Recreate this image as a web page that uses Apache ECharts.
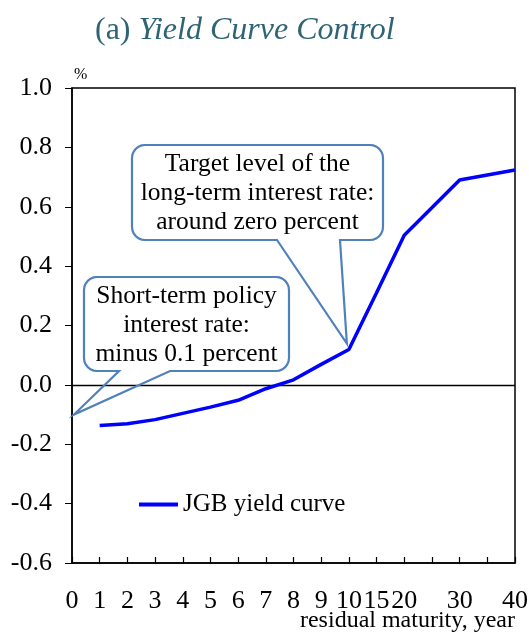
<!DOCTYPE html>
<html>
<head>
<meta charset="utf-8">
<script src="https://cdn.jsdelivr.net/npm/echarts@6/dist/echarts.min.js"></script>
<style>
  html, body { margin: 0; padding: 0; background: #fff; }
  #chart { width: 529px; height: 633px; }
</style>
</head>
<body>
<div id="chart"></div>
<script>
// residual maturity (years); 25 and 35 are only spacing slots on the axis
const maturities = ['0', '1', '2', '3', '4', '5', '6', '7', '8', '9', '10', '15', '20', '25', '30', '35', '40'];
const hiddenLabels = ['25', '35'];
// JGB yield, percent (null = no observation)
const jgbYield = [null, -0.137, -0.131, -0.117, -0.096, -0.075, -0.052, -0.013, 0.017, 0.069, 0.119, 0.31, 0.504, null, 0.69, null, 0.724];
const yTicks = { min: -0.6, max: 1.0, step: 0.2 };

// callout anchors: [category index, value]
const policyRatePoint = [0, -0.1];
const longRatePoint = [10, 0.119];

const serif = 'Liberation Serif';
const calloutColor = '#4f81bd';

var chart = echarts.init(document.getElementById('chart'));

chart.setOption({
    animation: false,
    title: {
        text: '(a) {i|Yield Curve Control}',
        left: 90,
        top: 10,
        textStyle: {
            fontFamily: serif,
            fontSize: 32,
            fontWeight: 'normal',
            color: '#2e6474',
            rich: {
                i: { fontFamily: serif, fontSize: 32, fontStyle: 'italic', color: '#2e6474' }
            }
        }
    },
    legend: {
        left: 134,
        top: 487,
        itemWidth: 39,
        itemHeight: 4,
        data: [{ name: 'JGB yield curve', icon: 'rect' }],
        textStyle: { fontFamily: serif, fontSize: 25, color: '#000' }
    },
    grid: {
        left: 72,
        right: 14,
        top: 88,
        bottom: 70,
        containLabel: false,
        outerBoundsMode: 'none',
        show: true,
        borderColor: '#000',
        borderWidth: 1.5
    },
    xAxis: {
        type: 'category',
        data: maturities,
        boundaryGap: false,
        name: 'residual maturity, year',
        nameLocation: 'end',
        nameGap: 0,
        nameMoveOverlap: false,
        nameTextStyle: {
            fontFamily: serif, fontSize: 24, color: '#000',
            align: 'right', verticalAlign: 'top', padding: [46, 0, 0, 0]
        },
        axisLine: { onZero: false, lineStyle: { color: '#000', width: 1.5 } },
        axisTick: { show: true, inside: true, length: 6, interval: 0, lineStyle: { color: '#000', width: 1.2 } },
        axisLabel: {
            interval: 0,
            margin: 25,
            fontFamily: serif,
            fontSize: 26,
            color: '#000',
            formatter: function (v) { return hiddenLabels.indexOf(v) >= 0 ? '' : v; }
        },
        splitLine: { show: false }
    },
    yAxis: {
        type: 'value',
        min: yTicks.min,
        max: yTicks.max,
        interval: yTicks.step,
        name: '%',
        nameLocation: 'end',
        nameGap: 5,
        nameTextStyle: { fontFamily: serif, fontSize: 16, color: '#000', align: 'left', padding: [0, 0, 0, 2] },
        axisLine: { show: true, lineStyle: { color: '#000', width: 1.5 } },
        axisTick: { show: true, length: 7, lineStyle: { color: '#000' } },
        axisLabel: {
            margin: 20,
            fontFamily: serif,
            fontSize: 26,
            color: '#000',
            formatter: function (v) { return v.toFixed(1); }
        },
        splitLine: { show: false }
    },
    series: [{
        name: 'JGB yield curve',
        type: 'line',
        data: jgbYield,
        connectNulls: true,
        symbol: 'none',
        z: 5,
        lineStyle: { color: '#0000ff', width: 3.5 },
        itemStyle: { color: '#0000ff' },
        markLine: {
            silent: true,
            symbol: 'none',
            label: { show: false },
            lineStyle: { color: '#000', width: 1.3, type: 'solid' },
            data: [{ yAxis: 0 }]
        }
    }]
});

// rounded box with a pointer wedge on its bottom edge
function calloutPoints(x1, y1, x2, y2, r, b1, b2, tip) {
    var pts = [];
    function arc(cx, cy, a0, a1) {
        for (var k = 0; k <= 6; k++) {
            var a = a0 + (a1 - a0) * k / 6;
            pts.push([cx + r * Math.cos(a), cy + r * Math.sin(a)]);
        }
    }
    pts.push([b2, y2]);
    arc(x2 - r, y2 - r, Math.PI / 2, 0);
    arc(x2 - r, y1 + r, 0, -Math.PI / 2);
    arc(x1 + r, y1 + r, -Math.PI / 2, -Math.PI);
    arc(x1 + r, y2 - r, Math.PI, Math.PI / 2);
    pts.push([b1, y2]);
    pts.push(tip);
    return pts;
}

var tipLong = chart.convertToPixel({ gridIndex: 0 }, longRatePoint);
var tipShort = chart.convertToPixel({ gridIndex: 0 }, policyRatePoint);

var calloutText = { fontFamily: serif, fontSize: 25.5, fill: '#000', align: 'center', verticalAlign: 'middle', lineHeight: 29 };

chart.setOption({
    graphic: [
        {
            type: 'polygon', z: 100,
            shape: { points: calloutPoints(132, 145, 383, 240, 13, 277, 340, [tipLong[0] - 2, tipLong[1] - 6]) },
            style: { fill: 'none', stroke: calloutColor, lineWidth: 2.2 }
        },
        {
            type: 'text', z: 101, x: 257.5, y: 193,
            style: Object.assign({ text: 'Target level of the\nlong-term interest rate:\naround zero percent' }, calloutText)
        },
        {
            type: 'polygon', z: 100,
            shape: { points: calloutPoints(84, 277, 289, 371, 13, 119, 170, [tipShort[0] + 2, tipShort[1]]) },
            style: { fill: 'none', stroke: calloutColor, lineWidth: 2.2 }
        },
        {
            type: 'text', z: 101, x: 186.5, y: 325,
            style: Object.assign({ text: 'Short-term policy\ninterest rate:\nminus 0.1 percent' }, calloutText)
        }
    ]
});
</script>
</body>
</html>
